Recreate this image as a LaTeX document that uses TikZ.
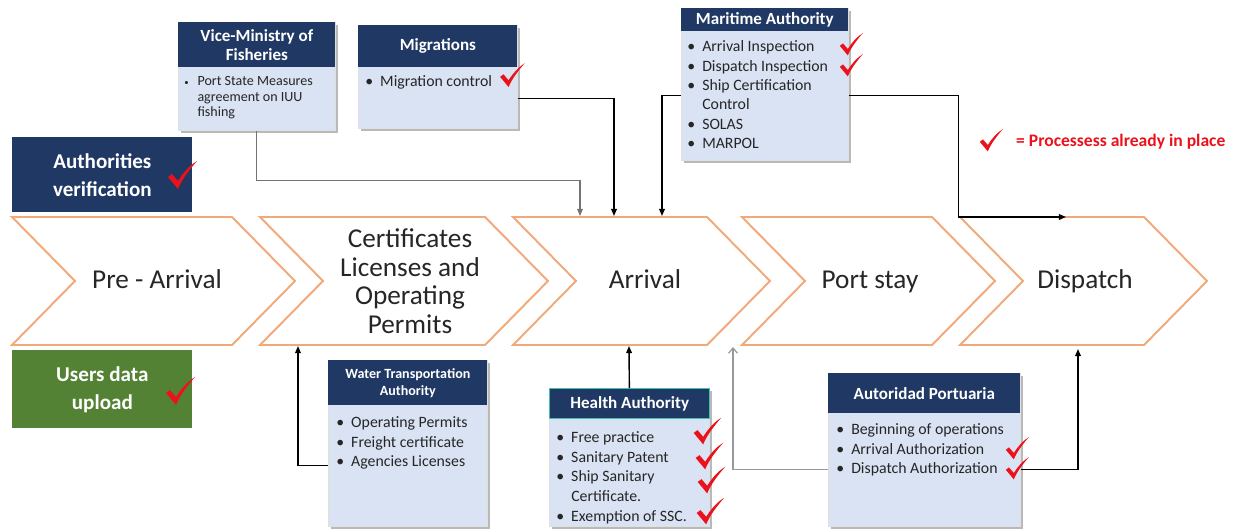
\documentclass[tikz,border=0pt]{standalone}
\usepackage{fontspec}
\setmainfont{Carlito}
\usetikzlibrary{arrows.meta,shadows}

\definecolor{navy}{RGB}{31,56,100}
\definecolor{paleblue}{RGB}{218,227,243}
\definecolor{leafgreen}{RGB}{84,130,53}
\definecolor{chevline}{RGB}{242,168,120}
\definecolor{tickred}{RGB}{236,18,28}
\definecolor{tealline}{RGB}{70,190,180}
\newcommand{\pxu}{0.02cm}
\newcommand{\blt}{\textbullet}

\tikzset{
  chev/.style={draw=chevline, line width=1.1pt},
  chevtext/.style={font=\fontsize{15.5}{16.2}\selectfont, align=center, text=black!85},
  card/.style={fill=paleblue, draw=black!12, line width=0.4pt, anchor=north west, inner sep=0pt,
    drop shadow={shadow xshift=1.6pt, shadow yshift=-1.6pt, fill=black!50, opacity=0.55}},
  cardhead/.style={fill=navy, text=white, anchor=north west, inner sep=0pt, align=center,
    font=\bfseries\fontsize{9.7}{11}\selectfont},
  items/.style={anchor=north west, inner sep=0pt, font=\fontsize{9}{11.3}\selectfont, text=black!85},
  sidebox/.style={anchor=north west, inner sep=0pt, text=white, align=center,
    font=\bfseries\fontsize{12}{16}\selectfont},
  link/.style={line width=0.8pt, -{Triangle[length=4pt,width=3.2pt]}},
  pics/tick/.style={code={
    \fill[tickred] (-14,1) -- (-10,-2) -- (-4,5) .. controls (1,-3) and (7,-10) .. (15,-15)
      .. controls (8,-7) and (0,3) .. (-4,13) -- cycle;}},
}

\begin{document}
\begin{tikzpicture}[x=0.02cm, y=-0.02cm]
        \useasboundingbox (0,0) rectangle (1242,531);

        % 流程箭头
        \foreach \l/\n/\s/\t in {12/75/232/295, 260/323/485/548, 513/576/707/770,
                                  742/805/932/995, 960/1023/1144/1207}
            \draw[chev] (\l,217) -- (\s,217) -- (\t,281) -- (\s,345) -- (\l,345) -- (\n,281) -- cycle;
        \node[chevtext, anchor=base] (pre) at (157,288) {Pre - Arrival};
        \node[chevtext] (cert) at (410,281) {Certificates\\Licenses and\\Operating\\Permits};
        \node[chevtext, anchor=base] (arr) at (645,288) {Arrival};
        \node[chevtext, anchor=base] (stay) at (870,288) {Port stay};
        \node[chevtext, anchor=base] (disp) at (1085,288) {Dispatch};

        % 箭头落点
        \coordinate (in1) at (580,216);
        \coordinate (in2) at (614,216);
        \coordinate (in3) at (662,216);
        \coordinate (in4) at (1066,217);
        \coordinate (in5) at (298,346);
        \coordinate (in6) at (629,346);
        \coordinate (in7) at (733,347);
        \coordinate (in8) at (1078,349);

        % 左侧色块
        \node[sidebox, fill=navy, minimum width=180*\pxu, minimum height=75*\pxu] (auth) at (12,137)
            {Authorities\\verification};
        \node[sidebox, fill=leafgreen, minimum width=180*\pxu, minimum height=78*\pxu] (users) at (12,350)
            {Users data\\upload};

        % 上方机构
        \node[card, minimum width=157*\pxu, minimum height=108*\pxu] (vmf) at (178,22) {};
        \node[cardhead, minimum width=157*\pxu, minimum height=45*\pxu] (vmfh) at (178,22)
            {Vice-Ministry of\\Fisheries};
        \node[items, font=\fontsize{8}{8.6}\selectfont] at ([shift={(6,53)}]vmf.north west)
            {\begin{tabular}{@{}l@{\hspace{5pt}}l@{}}
             {\fontsize{5}{5}\selectfont\textbullet} & Port State Measures\\ & agreement on IUU\\ & fishing\end{tabular}};

        \node[card, minimum width=159*\pxu, minimum height=103*\pxu] (mig) at (358,25) {};
        \node[cardhead, minimum width=159*\pxu, minimum height=42*\pxu] (migh) at (358,25) {Migrations};
        \node[items] at ([shift={(7,47)}]mig.north west)
            {\begin{tabular}{@{}l@{\hspace{4pt}}l@{}} \blt & Migration control\end{tabular}};

        \node[card, minimum width=167*\pxu, minimum height=152*\pxu] (mar) at (681,8) {};
        \node[cardhead, minimum width=167*\pxu, minimum height=23*\pxu] (marh) at (681,8) {Maritime Authority};
        \node[items, font=\fontsize{9}{11}\selectfont] at ([shift={(6,30)}]mar.north west)
            {\begin{tabular}{@{}l@{\hspace{4pt}}l@{}}
             \blt & Arrival Inspection\\ \blt & Dispatch Inspection\\
             \blt & Ship Certification\\ & Control\\ \blt & SOLAS\\ \blt & MARPOL\end{tabular}};

        % 下方机构
        \node[card, minimum width=159*\pxu, minimum height=166*\pxu] (wta) at (328,360) {};
        \node[cardhead, font=\bfseries\fontsize{8}{9.5}\selectfont, minimum width=159*\pxu,
              minimum height=45*\pxu] (wtah) at (328,360) {Water Transportation\\Authority};
        \node[items] at ([shift={(8,53)}]wta.north west)
            {\begin{tabular}{@{}l@{\hspace{4pt}}l@{}}
             \blt & Operating Permits\\ \blt & Freight certificate\\ \blt & Agencies Licenses\end{tabular}};

        \node[card, minimum width=160*\pxu, minimum height=138*\pxu] (ha) at (549,388) {};
        \node[cardhead, draw=tealline, line width=0.8pt, minimum width=160*\pxu,
              minimum height=30*\pxu] (hah) at (549,388) {Health Authority};
        \node[items] at ([shift={(7,40)}]ha.north west)
            {\begin{tabular}{@{}l@{\hspace{4pt}}l@{}}
             \blt & Free practice\\ \blt & Sanitary Patent\\ \blt & Ship Sanitary\\
             & Certificate.\\ \blt & Exemption of SSC.\end{tabular}};

        \node[card, minimum width=192*\pxu, minimum height=153*\pxu] (ap) at (828,373) {};
        \node[cardhead, minimum width=192*\pxu, minimum height=40*\pxu] (aph) at (828,373) {Autoridad Portuaria};
        \node[items] at ([shift={(8,47)}]ap.north west)
            {\begin{tabular}{@{}l@{\hspace{4pt}}l@{}}
             \blt & Beginning of operations\\ \blt & Arrival Authorization\\
             \blt & Dispatch Authorization\end{tabular}};

        % 连线
        \draw[link, draw=black!55, line width=0.6pt] (vmf.south) -- ++(0,50) -| (in1);
        \draw[link] ([yshift=-21.5*\pxu]mig.east) -| (in2);
        \draw[link] ([yshift=-11*\pxu]mar.west) -| (in3);
        \draw[link] ([yshift=-11*\pxu]mar.east) -- ++(110,0) |- (in4);
        \draw[link] ([yshift=-22*\pxu]wta.west) -| (in5);
        \draw[link] (ha.north) -- (in6);
        \draw[line width=0.7pt, draw=black!40, -{Straight Barb[length=3pt,width=5pt]}]
            ([yshift=-19.5*\pxu]ap.west) -| (in7);
        \draw[link] ([yshift=-19.5*\pxu]ap.east) -| (in8);

        % 图例
        \node[anchor=west, text=tickred, font=\bfseries\fontsize{10}{12}\selectfont] (legend) at (1010,142)
            {= Processess already in place};

        % 对勾
        \pic at (182,176) {tick};
        \pic at (180,392) {tick};
        \pic[scale=0.85] at (512,76) {tick};
        \pic[scale=0.8] at (851,45) {tick};
        \pic[scale=0.8] at (851,66) {tick};
        \pic[scale=0.8] at (991,141) {tick};
        \foreach \y/\x in {432/707, 457/709, 481/711, 512/710}
            \pic[scale=0.95] at (\x,\y) {tick};
        \pic[scale=0.8] at (1017,449) {tick};
        \pic[scale=0.8] at (1017,469) {tick};
\end{tikzpicture}
\end{document}
